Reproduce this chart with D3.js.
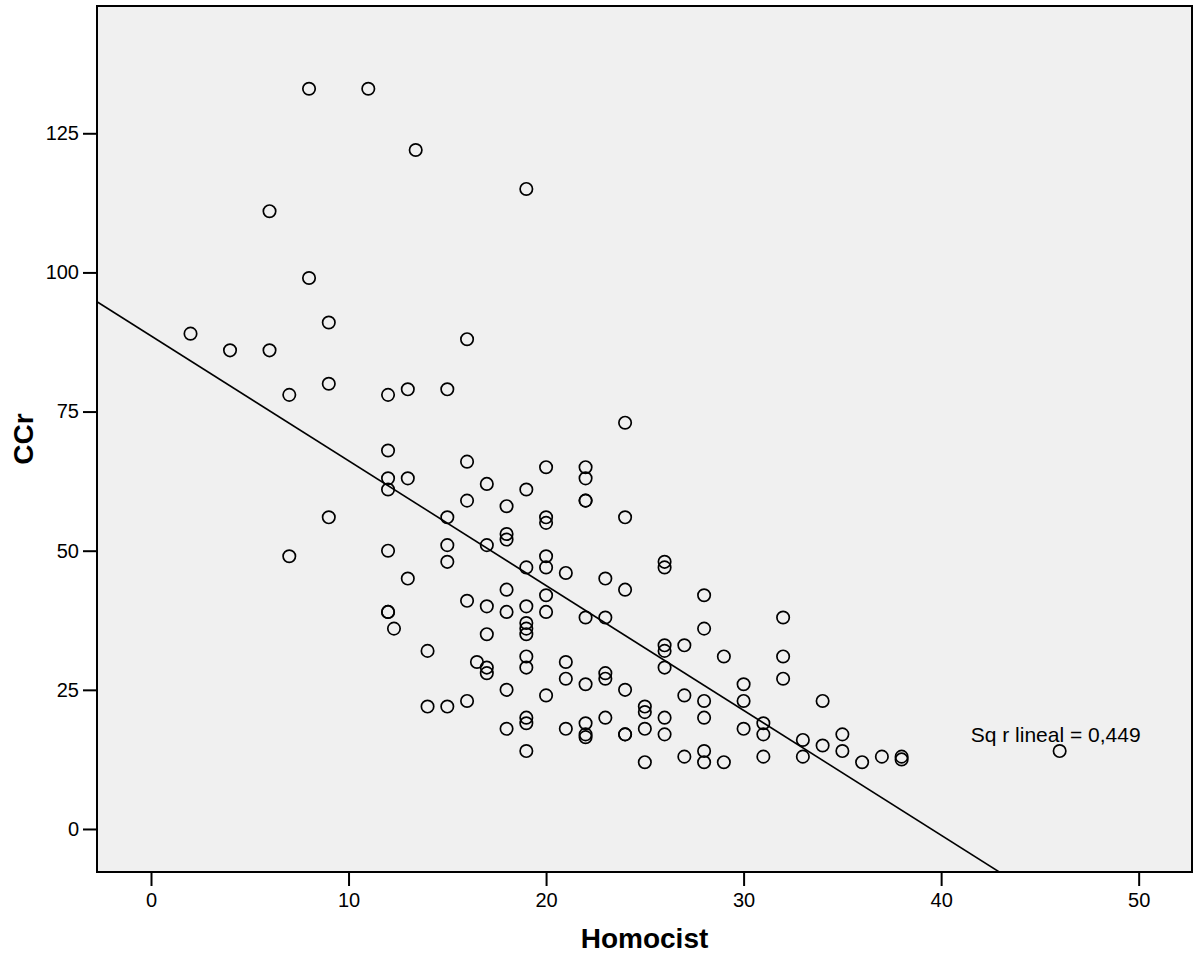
<!DOCTYPE html>
<html>
<head>
<meta charset="utf-8">
<script src="https://cdn.jsdelivr.net/npm/d3@7/dist/d3.min.js"></script>
<style>
  html, body { margin: 0; padding: 0; background: #fff; }
  svg { display: block; }
  text { font-family: "Liberation Sans", Arial, sans-serif; fill: #000; }
</style>
</head>
<body>
<svg id="chart" width="1197" height="956"></svg>
<script>
// Homocysteine vs creatinine clearance, one entry per patient
const homocist = [
  8, 11, 13.4, 6, 8, 19, 2, 4, 6, 9,
  7, 9, 12, 13, 15, 16, 24, 12, 12, 12,
  13, 16, 17, 16, 15, 9, 15, 15, 17, 7,
  12, 13, 19, 20, 22, 22, 22, 22, 18, 20,
  20, 24, 18, 18, 20, 19, 20, 21, 26, 26,
  23, 24, 18, 20, 28, 16, 17, 19, 12, 12,
  18, 20, 22, 23, 32, 12.3, 19, 19, 19, 28,
  17, 26, 26, 27, 29, 32, 14, 19, 16.5, 21,
  26, 17, 17, 19, 21, 22, 23, 23, 24, 18,
  20, 25, 25, 26, 26, 27, 28, 28, 28, 28,
  29, 27, 25, 25, 24, 24, 23, 22, 22, 22,
  21, 19, 19, 19, 18, 14, 15, 16, 30, 30,
  30, 31, 31, 31, 32, 34, 33, 34, 35, 35,
  33, 36, 37, 38, 38, 46
];
const ccr = [
  133, 133, 122, 111, 99, 115, 89, 86, 86, 91,
  78, 80, 78, 79, 79, 88, 73, 68, 63, 61,
  63, 66, 62, 59, 56, 56, 51, 48, 51, 49,
  50, 45, 61, 65, 65, 63, 59, 59, 58, 56,
  55, 56, 53, 52, 49, 47, 47, 46, 48, 47,
  45, 43, 43, 42, 42, 41, 40, 40, 39, 39,
  39, 39, 38, 38, 38, 36, 37, 36, 35, 36,
  35, 33, 32, 33, 31, 31, 32, 31, 30, 30,
  29, 29, 28, 29, 27, 26, 28, 27, 25, 25,
  24, 22, 21, 20, 17, 24, 23, 20, 14, 12,
  12, 13, 18, 12, 17, 17, 20, 19, 17, 16.5,
  18, 20, 19, 14, 18, 22, 22, 23, 26, 23,
  18, 19, 17, 13, 27, 23, 16, 15, 17, 14,
  13, 12, 13, 13, 12.5, 14
];

// Linear fit line: CCr = fitIntercept + fitSlope * Homocist
const fitIntercept = 88.6;
const fitSlope = -2.243;
const fitLabel = "Sq r lineal = 0,449";
const fitLabelAt = [41.5, 15.7];

const xTicks = [0, 10, 20, 30, 40, 50];
const yTicks = [0, 25, 50, 75, 100, 125];
const xTitle = "Homocist";
const yTitle = "CCr";

const svg = d3.select("#chart");
const plot = { left: 97, right: 1192, top: 6, bottom: 872 };

const x = d3.scaleLinear().domain([-2.734, 52.70]).range([plot.left, plot.right]);
const y = d3.scaleLinear().domain([-7.73, 147.87]).range([plot.bottom, plot.top]);

// plot background
svg.append("rect")
  .attr("x", plot.left).attr("y", plot.top)
  .attr("width", plot.right - plot.left)
  .attr("height", plot.bottom - plot.top)
  .attr("fill", "#f0f0f0");

svg.append("defs").append("clipPath").attr("id", "plotClip")
  .append("rect")
  .attr("x", plot.left).attr("y", plot.top)
  .attr("width", plot.right - plot.left)
  .attr("height", plot.bottom - plot.top);

// fit line across the full x range
const xd = x.domain();
svg.append("line")
  .attr("clip-path", "url(#plotClip)")
  .attr("x1", x(xd[0])).attr("y1", y(fitIntercept + fitSlope * xd[0]))
  .attr("x2", x(xd[1])).attr("y2", y(fitIntercept + fitSlope * xd[1]))
  .attr("stroke", "#000").attr("stroke-width", 1.6);

// points
svg.append("g")
  .selectAll("circle")
  .data(homocist.map((h, i) => ({ h, c: ccr[i] })))
  .join("circle")
  .attr("cx", d => x(d.h))
  .attr("cy", d => y(d.c))
  .attr("r", 6.2)
  .attr("fill", "none")
  .attr("stroke", "#000")
  .attr("stroke-width", 1.7);

svg.append("text")
  .attr("x", x(fitLabelAt[0]))
  .attr("y", y(fitLabelAt[1]))
  .attr("font-size", 21)
  .text(fitLabel);

// axes
const xAxis = svg.append("g")
  .attr("transform", `translate(0,${plot.bottom})`)
  .call(d3.axisBottom(x).tickValues(xTicks).tickFormat(d3.format("d")).tickSize(14).tickPadding(7));
const yAxis = svg.append("g")
  .attr("transform", `translate(${plot.left},0)`)
  .call(d3.axisLeft(y).tickValues(yTicks).tickFormat(d3.format("d")).tickSize(14).tickPadding(4));

[xAxis, yAxis].forEach(g => {
  g.select(".domain").remove();
  g.selectAll(".tick line").attr("stroke", "#000").attr("stroke-width", 2);
  g.selectAll(".tick text")
    .attr("font-family", "Liberation Sans, Arial, sans-serif")
    .attr("font-size", 20)
    .attr("fill", "#000");
});

// frame
svg.append("rect")
  .attr("x", plot.left).attr("y", plot.top)
  .attr("width", plot.right - plot.left)
  .attr("height", plot.bottom - plot.top)
  .attr("fill", "none")
  .attr("stroke", "#000")
  .attr("stroke-width", 2);

// axis titles
svg.append("text")
  .attr("x", (plot.left + plot.right) / 2)
  .attr("y", 948)
  .attr("text-anchor", "middle")
  .attr("font-size", 28)
  .attr("font-weight", "bold")
  .text(xTitle);

svg.append("text")
  .attr("transform", `translate(33,${(plot.top + plot.bottom) / 2}) rotate(-90)`)
  .attr("text-anchor", "middle")
  .attr("font-size", 28)
  .attr("font-weight", "bold")
  .text(yTitle);
</script>
</body>
</html>
